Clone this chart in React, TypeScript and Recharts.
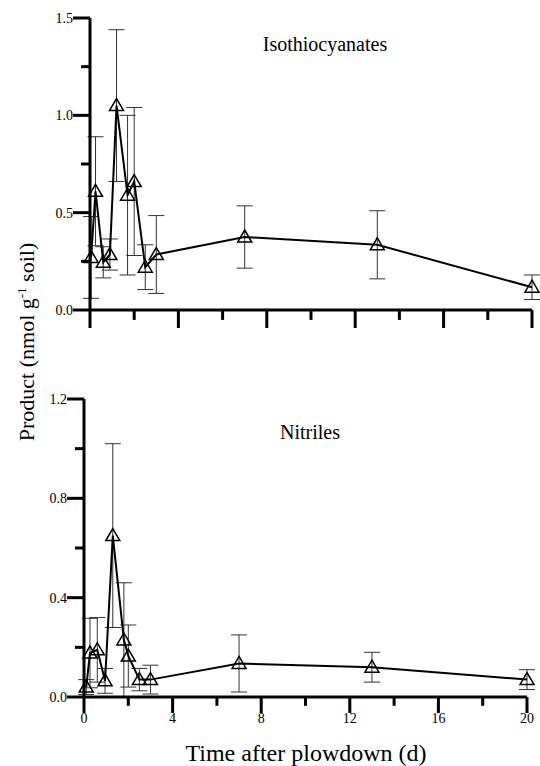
import React from 'react';
import { LineChart, Line, XAxis, YAxis, ErrorBar } from 'recharts';

// days after plowdown
const isoDays = [0.05, 0.25, 0.6, 0.9, 1.2, 1.7, 2.0, 2.5, 3.0, 7.0, 13.0, 20.0];
const isoValues = [0.27, 0.61, 0.245, 0.285, 1.05, 0.59, 0.66, 0.22, 0.285, 0.375, 0.335, 0.117];
const isoErrors = [0.21, 0.28, 0.08, 0.08, 0.39, 0.41, 0.38, 0.115, 0.2, 0.16, 0.175, 0.063];

const nitDays = [0.1, 0.27, 0.6, 0.95, 1.3, 1.8, 2.0, 2.5, 3.0, 7.0, 13.0, 20.0];
const nitValues = [0.04, 0.177, 0.19, 0.065, 0.65, 0.23, 0.165, 0.07, 0.07, 0.135, 0.12, 0.07];
const nitErrors = [0.03, 0.14, 0.13, 0.05, 0.37, 0.23, 0.125, 0.045, 0.058, 0.115, 0.06, 0.04];

const xTicks = [0, 2, 4, 6, 8, 10, 12, 14, 16, 18, 20];
const xTickLabels: Record<number, string> = { 0: '0', 4: '4', 8: '8', 12: '12', 16: '16', 20: '20' };
const isoYTicks = [0, 0.25, 0.5, 0.75, 1.0, 1.25, 1.5];
const nitYTicks = [0, 0.2, 0.4, 0.6, 0.8, 1.0, 1.2];

const isoData = isoDays.map((d, i) => ({ d, v: isoValues[i], e: isoErrors[i] }));
const nitData = nitDays.map((d, i) => ({ d, v: nitValues[i], e: nitErrors[i] }));

const serif = '"Liberation Serif", "DejaVu Serif", serif';

const Triangle = (props: any) => {
  const { cx, cy, index } = props;
  if (cx == null || cy == null) return <g key={index} />;
  return (
    <path
      key={index}
      d={`M${cx},${cy - 7} L${cx + 7},${cy + 5} L${cx - 7},${cy + 5} Z`}
      fill="none"
      stroke="#000"
      strokeWidth={1.5}
    />
  );
};

const makeXTick = (labels: boolean, major: number) => (props: any) => {
  const { x, y, payload } = props;
  const label = xTickLabels[Math.round(payload.value)];
  const isMajor = label !== undefined;
  return (
    <g>
      <line x1={x} x2={x} y1={y} y2={y + (isMajor ? major : major * 0.55)} stroke="#000" strokeWidth={3} />
      {labels && isMajor && (
        <text x={x} y={y + 26} textAnchor="middle" fontSize={14} fontFamily={serif} fill="#000">
          {label}
        </text>
      )}
    </g>
  );
};

const makeYTick = (step: number) => (props: any) => {
  const { x, y, payload } = props;
  const isMajor = Math.round(payload.value / step) % 2 === 0;
  return (
    <g>
      <line x1={x} x2={x - (isMajor ? 17 : 9)} y1={y} y2={y} stroke="#000" strokeWidth={3} />
      {isMajor && (
        <text x={x - 17} y={y + 5} textAnchor="end" fontSize={14} fontFamily={serif} fill="#000">
          {payload.value.toFixed(1)}
        </text>
      )}
    </g>
  );
};

const Panel = ({ data, yMax, yTicks, step, labels, major, margin, height }: any) => (
  <LineChart width={540} height={height} data={data} margin={margin}>
    <XAxis
      dataKey="d"
      type="number"
      domain={[0, 20]}
      ticks={xTicks}
      height={30}
      tickSize={0}
      tickMargin={0}
      tickLine={false}
      axisLine={{ stroke: '#000', strokeWidth: 3 }}
      tick={makeXTick(labels, major)}
      interval={0}
    />
    <YAxis
      type="number"
      domain={[0, yMax]}
      ticks={yTicks}
      width={40}
      tickSize={0}
      tickMargin={0}
      tickLine={false}
      axisLine={{ stroke: '#000', strokeWidth: 3 }}
      tick={makeYTick(step)}
      interval={0}
      allowDataOverflow
    />
    <Line
      dataKey="v"
      stroke="#000"
      strokeWidth={2}
      dot={Triangle}
      isAnimationActive={false}
    >
      <ErrorBar dataKey="e" width={8} stroke="#333" strokeWidth={1} direction="y" />
    </Line>
  </LineChart>
);

export default function App() {
  return (
    <div style={{ position: 'absolute', left: 0, top: 0, width: 540, height: 766, background: '#fff', fontFamily: serif }}>
      <div style={{ position: 'absolute', left: 0, top: 0 }}>
        <Panel
          data={isoData}
          yMax={1.5}
          yTicks={isoYTicks}
          step={0.25}
          labels={false}
          major={18}
          height={340}
          margin={{ top: 18, right: 8, bottom: 0, left: 50 }}
        />
      </div>
      <div style={{ position: 'absolute', left: 0, top: 380 }}>
        <Panel
          data={nitData}
          yMax={1.2}
          yTicks={nitYTicks}
          step={0.2}
          labels={true}
          major={16}
          height={386}
          margin={{ top: 19, right: 13, bottom: 39, left: 44 }}
        />
      </div>
      <div style={{ position: 'absolute', left: 225, width: 200, top: 33, textAlign: 'center', fontSize: 20 }}>
        Isothiocyanates
      </div>
      <div style={{ position: 'absolute', left: 210, width: 200, top: 421, textAlign: 'center', fontSize: 20 }}>
        Nitriles
      </div>
      <div
        style={{
          position: 'absolute',
          left: 27,
          top: 342,
          transform: 'translate(-50%, -50%) rotate(-90deg)',
          whiteSpace: 'nowrap',
          fontSize: 22,
        }}
      >
        Product (nmol g<sup style={{ fontSize: 13 }}>-1</sup> soil)
      </div>
      <div style={{ position: 'absolute', left: 156, width: 300, top: 740, textAlign: 'center', fontSize: 24 }}>
        Time after plowdown (d)
      </div>
    </div>
  );
}
